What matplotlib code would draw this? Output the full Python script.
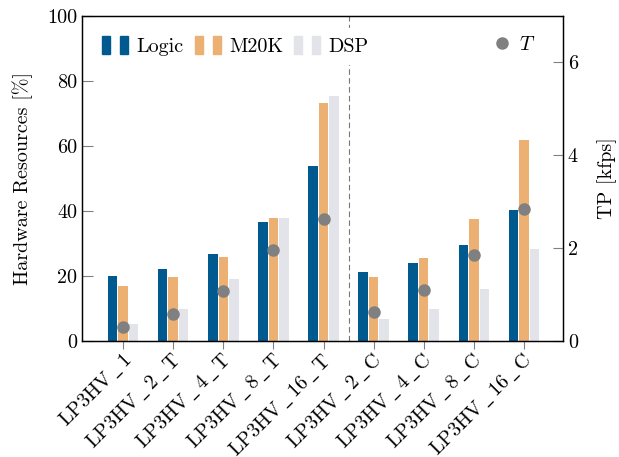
import matplotlib
matplotlib.use("Agg")
import matplotlib.pyplot as plt
import matplotlib.transforms as mtransforms
import numpy as np
from matplotlib.patches import Rectangle
from matplotlib.lines import Line2D
from matplotlib.legend_handler import HandlerTuple

plt.rcParams['font.family'] = ['cmr10', 'DejaVu Serif']
plt.rcParams['mathtext.fontset'] = 'cm'
plt.rcParams['axes.unicode_minus'] = False
plt.rcParams['font.size'] = 14.5

labels = ["LP3HV_1", "LP3HV_2_T", "LP3HV_4_T", "LP3HV_8_T", "LP3HV_16_T",
          "LP3HV_2_C", "LP3HV_4_C", "LP3HV_8_C", "LP3HV_16_C"]
logic = [20.1, 22.2, 26.9, 36.5, 53.9, 21.3, 24.0, 29.6, 40.4]
m20k = [16.8, 19.7, 25.8, 37.8, 73.1, 19.7, 25.6, 37.6, 61.8]
dsp = [5.1, 9.7, 19.1, 37.8, 75.4, 6.6, 9.7, 16.0, 28.4]
tp = [0.29, 0.57, 1.07, 1.95, 2.62, 0.62, 1.10, 1.85, 2.85]

c_logic = "#005a8f"
c_m20k = "#edb073"
c_dsp = "#e3e3ea"
c_tp = "#808080"

x = np.arange(len(labels))
w = 0.19
off = 0.21

fig = plt.figure(figsize=(6.19, 4.57), dpi=100)
ax = fig.add_axes([0.1325, 0.254, 0.777, 0.711])

ax.bar(x - off, logic, w, color=c_logic, zorder=2)
ax.bar(x, m20k, w, color=c_m20k, zorder=2)
ax.bar(x + off, dsp, w, color=c_dsp, zorder=2)
ax.axvline(4.5, color="#777777", linestyle=(0, (5, 3)), linewidth=0.8, zorder=1)

ax.set_xlim(-0.82, 8.78)
ax.set_ylim(0, 100)
ax.set_yticks([0, 20, 40, 60, 80, 100])
ax.set_xticks(x)
ax.set_xticklabels([])
# rotated category labels drawn as text; cmr10 has no underscore glyph, so use the mathtext one
lab_tr = ax.get_xaxis_transform() + mtransforms.ScaledTranslation(-2 / 100, -9 / 100, fig.dpi_scale_trans)
for xi, s in zip(x, labels):
    ax.text(xi, 0, s.replace("_", r"$\,\_\,$"), transform=lab_tr, rotation=45,
            ha='right', va='top', rotation_mode='anchor')
ax.set_ylabel("Hardware Resources [%]", labelpad=10)
ax.tick_params(axis='y', direction='in', length=8, color="#808080", width=0.8)
ax.tick_params(axis='x', direction='out', length=6, color="#808080", width=0.8)

ax2 = ax.twinx()
ax2.plot(x, tp, 'o', color=c_tp, markersize=8, zorder=3)
ax2.set_ylim(0, 7)
ax2.set_yticks([0, 2, 4, 6])
ax2.set_ylabel("TP [kfps]", labelpad=14)
ax2.tick_params(axis='y', direction='in', length=7.5, color="#808080", width=0.8)
for a in (ax, ax2):
    for s in a.spines.values():
        s.set_linewidth(0.9)

def pair(c):
    return (Rectangle((0, 0), 1, 1, color=c), Rectangle((0, 0), 1, 1, color=c))

leg = ax2.legend([pair(c_logic), pair(c_m20k), pair(c_dsp)], ["Logic", "M20K", "DSP"],
                 handler_map={tuple: HandlerTuple(ndivide=None, pad=0.5)},
                 loc='upper left', bbox_to_anchor=(0.0, 1.0), ncol=3,
                 handlelength=1.3, handleheight=1.0, handletextpad=0.4, columnspacing=0.55,
                 frameon=True, fancybox=False, edgecolor='white', framealpha=1.0,
                 borderaxespad=0.6)
ax2.add_artist(leg)
leg2 = ax2.legend([Line2D([], [], marker='o', color=c_tp, linestyle='none', markersize=8)], ["$T$"],
                  loc='upper right', bbox_to_anchor=(0.985, 1.0), handlelength=0.6, handletextpad=0.55,
                  frameon=True, fancybox=False, edgecolor='white', framealpha=1.0,
                  borderaxespad=0.6)

fig.savefig("out.png", dpi=100)
